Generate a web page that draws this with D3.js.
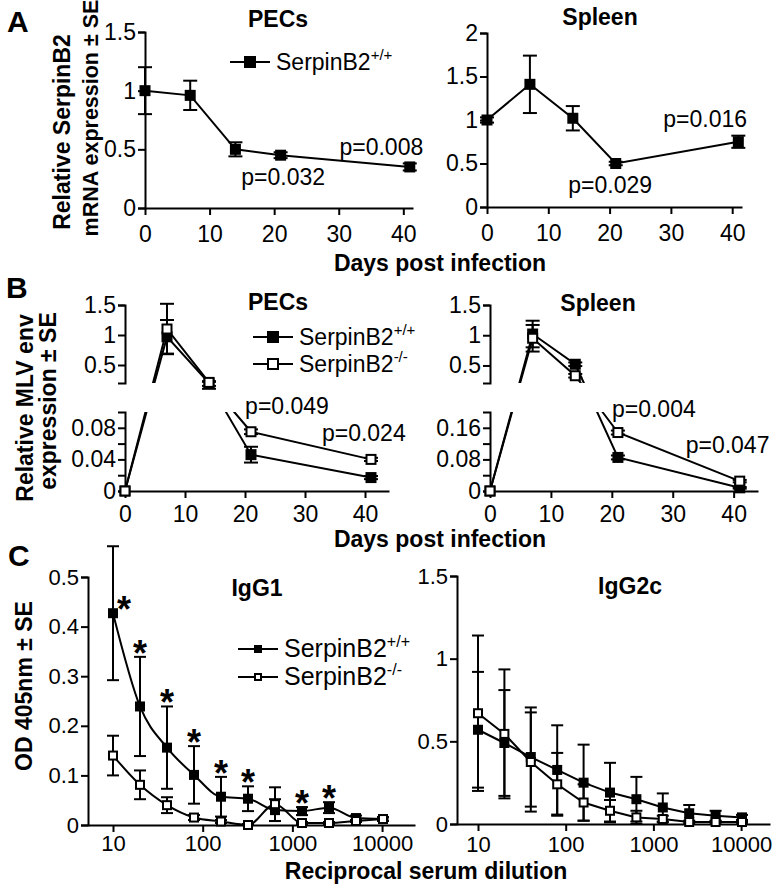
<!DOCTYPE html>
<html>
<head>
<meta charset="utf-8">
<script src="https://cdn.jsdelivr.net/npm/d3@7"></script>
<style>
body { margin: 0; background: #fff; }
svg { display: block; font-family: "Liberation Sans", Arial, Helvetica, sans-serif; }
.axis path, .axis line { stroke: #000; stroke-width: 2; }
.axis text { font-family: "Liberation Sans", Arial, Helvetica, sans-serif; font-size: 23px; fill: #000; }
.axis.small text { font-size: 22px; }
</style>
</head>
<body>
<div id="chart"></div>
<script>

// ---------- panel A : relative SerpinB2 mRNA ----------
var daysA = [0, 7, 14, 21, 41];
var pecsA = [1.0, 0.96, 0.5, 0.45, 0.35];
var pecsA_se = [0.2, 0.125, 0.06, 0.025, 0.03];
var spleenA = [1.0, 1.41, 1.02, 0.5, 0.75];
var spleenA_se = [0.03, 0.33, 0.14, 0.02, 0.07];

// ---------- panel B : MLV env (broken y axis) ----------
var daysB = [0, 7, 14, 21, 41];
var pecsB_wt = [0, 0.97, 0.2, 0.046, 0.017];
var pecsB_wt_se = [0, 0.28, 0.02, 0.01, 0.002];
var pecsB_ko = [0, 1.1, 0.21, 0.075, 0.04];
var pecsB_ko_se = [0, 0.42, 0.02, 0.003, 0.002];
var spleenB_wt = [0, 1.02, 0.52, 0.085, 0.008];
var spleenB_wt_se = [0, 0.22, 0.03, 0.005, 0.002];
var spleenB_ko = [0, 0.95, 0.33, 0.148, 0.025];
var spleenB_ko_se = [0, 0.22, 0.03, 0.005, 0.003];

// ---------- panel C : antibody titres ----------
var dilutions = [10, 20, 40, 80, 160, 320, 640, 1280, 2560, 5120, 10240];
var igg1_wt = [0.427, 0.239, 0.156, 0.101, 0.057, 0.053, 0.03, 0.028, 0.035, 0.014, 0.012];
var igg1_wt_se = [0.135, 0.1, 0.083, 0.058, 0.04, 0.025, 0.022, 0.008, 0.011, 0.005, 0.003];
var igg1_ko = [0.14, 0.081, 0.04, 0.015, 0.007, 0.0, 0.042, 0.004, 0.004, 0.008, 0.012];
var igg1_ko_se = [0.04, 0.029, 0.016, 0.005, 0.003, 0.002, 0.034, 0.002, 0.002, 0.002, 0.004];
var igg1_stars = [10, 20, 40, 80, 160, 320, 1280, 2560];
var igg2c_wt = [0.57, 0.49, 0.405, 0.327, 0.25, 0.19, 0.15, 0.1, 0.065, 0.05, 0.04];
var igg2c_wt_se = [0.35, 0.32, 0.3, 0.27, 0.23, 0.18, 0.135, 0.085, 0.05, 0.03, 0.015];
var igg2c_ko = [0.67, 0.545, 0.375, 0.24, 0.13, 0.08, 0.04, 0.03, 0.012, 0.012, 0.012];
var igg2c_ko_se = [0.47, 0.39, 0.3, 0.19, 0.11, 0.065, 0.04, 0.02, 0.008, 0.005, 0.005];

// tick labels
var dayTicks = [0, 10, 20, 30, 40];
var ticksA_pecs = [0, 0.5, 1, 1.5];
var ticksA_spleen = [0, 0.5, 1, 1.5, 2];
var ticksB_top = [0.5, 1, 1.5];
var ticksB_pecs = [0, 0.02, 0.04, 0.06, 0.08];
var labelsB_pecs = [0, 0.04, 0.08];
var ticksB_spleen = [0, 0.04, 0.08, 0.12, 0.16];
var labelsB_spleen = [0, 0.08, 0.16];
var ticksC_igg1 = [0, 0.1, 0.2, 0.3, 0.4, 0.5];
var ticksC_igg2c = [0, 0.5, 1, 1.5];
var dilutionTicks = [10, 100, 1000, 10000];

var W = 782, H = 894;

var svg = d3.select("#chart")
    .append("svg")
    .attr("width", W)
    .attr("height", H);

svg.append("rect").attr("width", W).attr("height", H).attr("fill", "#fff");
var defs = svg.append("defs");

function yAxis(x, scale, ticks, labels, cls) {
    svg.append("g")
        .attr("class", "axis " + (cls || ""))
        .attr("transform", "translate(" + x + ",0)")
        .call(d3.axisLeft(scale)
            .tickValues(ticks)
            .tickSize(7)
            .tickSizeOuter(7)
            .tickPadding(2)
            .tickFormat(function(d) {
                return (!labels || labels.indexOf(d) >= 0) ? d : "";
            }));
}

function xAxis(y, scale, ticks, pad, cls) {
    svg.append("g")
        .attr("class", "axis " + (cls || ""))
        .attr("transform", "translate(0," + y + ")")
        .call(d3.axisBottom(scale)
            .tickValues(ticks)
            .tickSize(7)
            .tickSizeOuter(0)
            .tickPadding(pad)
            .tickFormat(function(d) { return d; }));
}

// one series: line + error bars + square markers
function series(xs, ys, xv, yv, se, o) {
    var pts = xv.map(function(x, i) { return {x: x, y: yv[i], se: se[i]}; });
    var g = svg.append("g");

    var line = d3.line()
        .x(function(d) { return xs(d.x); })
        .y(function(d) { return ys(d.y); })
        .curve(o.curve || d3.curveLinear);

    g.append("path")
        .attr("d", line(pts))
        .attr("fill", "none")
        .attr("stroke", "#000")
        .attr("stroke-width", 2)
        .attr("clip-path", o.clip ? "url(#" + o.clip + ")" : null);

    var eb = g.selectAll(".eb")
        .data(pts.filter(function(d) { return d.se > 0; }))
        .enter()
        .append("g")
        .attr("stroke", "#000")
        .attr("stroke-width", 2);
    eb.append("line")
        .attr("x1", function(d) { return xs(d.x); })
        .attr("x2", function(d) { return xs(d.x); })
        .attr("y1", function(d) { return ys(Math.max(0, d.y - d.se)); })
        .attr("y2", function(d) { return ys(d.y + d.se); });
    eb.append("line")
        .attr("x1", function(d) { return xs(d.x) - o.cap / 2; })
        .attr("x2", function(d) { return xs(d.x) + o.cap / 2; })
        .attr("y1", function(d) { return ys(d.y + d.se); })
        .attr("y2", function(d) { return ys(d.y + d.se); });
    eb.append("line")
        .attr("x1", function(d) { return xs(d.x) - o.cap / 2; })
        .attr("x2", function(d) { return xs(d.x) + o.cap / 2; })
        .attr("y1", function(d) { return ys(Math.max(0, d.y - d.se)); })
        .attr("y2", function(d) { return ys(Math.max(0, d.y - d.se)); });

    var s = o.open ? o.size - 2 : o.size;
    g.selectAll(".mk")
        .data(pts)
        .enter()
        .append("rect")
        .attr("x", function(d) { return xs(d.x) - s / 2; })
        .attr("y", function(d) { return ys(d.y) - s / 2; })
        .attr("width", s)
        .attr("height", s)
        .attr("fill", o.open ? "#fff" : "#000")
        .attr("stroke", o.open ? "#000" : "none")
        .attr("stroke-width", 2);
}

function legendItem(x, y, open, size, sup, fs) {
    svg.append("line")
        .attr("x1", x).attr("x2", x + 40)
        .attr("y1", y).attr("y2", y)
        .attr("stroke", "#000").attr("stroke-width", 2);
    var s = open ? size - 2 : size;
    svg.append("rect")
        .attr("x", x + 20 - s / 2).attr("y", y - s / 2)
        .attr("width", s).attr("height", s)
        .attr("fill", open ? "#fff" : "#000")
        .attr("stroke", open ? "#000" : "none")
        .attr("stroke-width", 2);
    var t = svg.append("text")
        .attr("x", x + 46).attr("y", y + 8)
        .attr("font-size", fs)
        .text("SerpinB2");
    t.append("tspan").attr("font-size", Math.round(fs * 0.64)).attr("dy", -10).text(sup);
}

function label(x, y, txt, size, bold, anchor, rotate) {
    svg.append("text")
        .attr("transform", "translate(" + x + "," + y + ")" + (rotate ? " rotate(-90)" : ""))
        .attr("text-anchor", anchor || "middle")
        .attr("font-size", size)
        .attr("font-weight", bold ? "bold" : "normal")
        .text(txt);
}

// ================= Panel A =================
var xA1 = d3.scaleLinear().domain([0, 41.5]).range([145, 413]);
var yA1 = d3.scaleLinear().domain([0, 1.5]).range([208, 32]);
var xA2 = d3.scaleLinear().domain([0, 41.6]).range([487, 742]);
var yA2 = d3.scaleLinear().domain([0, 2]).range([207, 33]);

yAxis(145, yA1, ticksA_pecs);
xAxis(208, xA1, dayTicks, 11);
yAxis(487, yA2, ticksA_spleen);
xAxis(207, xA2, dayTicks, 11);

series(xA1, yA1, daysA, pecsA, pecsA_se, {size: 11, cap: 14});
series(xA2, yA2, daysA, spleenA, spleenA_se, {size: 11, cap: 14});

label(xA1(21.4), yA1(0.2), "p=0.032", 23);
label(xA1(36.6), yA1(0.45), "p=0.008", 23);
label(xA2(20.1), yA2(0.16), "p=0.029", 23);
label(xA2(35.6), yA2(0.92), "p=0.016", 23);

label(278, 27, "PECs", 23, true);
label(600, 25, "Spleen", 23, true);
legendItem(230, 62, false, 12, "+/+", 23);

label(440, 271, "Days post infection", 23, true);
label(70, 132, "Relative SerpinB2", 23, true, "middle", true);
label(98, 118, "mRNA expression \u00B1 SE", 21.5, true, "middle", true);
label(7, 32, "A", 30, true, "start");

// ================= Panel B =================
var xB1 = d3.scaleLinear().domain([0, 44]).range([125, 389]);
var xB2 = d3.scaleLinear().domain([0, 44]).range([490, 758]);
// continuous mapping across the break, plus one scale per axis segment
var yB1 = d3.scaleLinear().domain([0, 0.1, 0.2, 1.5]).range([491, 412, 383, 305]);
var yB1lo = d3.scaleLinear().domain([0, 0.1]).range([491, 412]);
var yB1hi = d3.scaleLinear().domain([0.2, 1.5]).range([383, 305]);
var yB2 = d3.scaleLinear().domain([0, 0.2, 0.21, 1.5]).range([491, 412, 383, 305]);
var yB2lo = d3.scaleLinear().domain([0, 0.2]).range([491, 412]);
var yB2hi = d3.scaleLinear().domain([0.21, 1.5]).range([383, 305]);

// lines disappear inside the axis break
[["clipB1", 100], ["clipB2", 465]].forEach(function(c) {
    var cp = defs.append("clipPath").attr("id", c[0]);
    cp.append("rect").attr("x", c[1]).attr("y", 280).attr("width", 310).attr("height", 103);
    cp.append("rect").attr("x", c[1]).attr("y", 412).attr("width", 310).attr("height", 90);
});

yAxis(125, yB1hi, ticksB_top);
yAxis(125, yB1lo, ticksB_pecs, labelsB_pecs);
xAxis(491, xB1, dayTicks, 8);
yAxis(490, yB2hi, ticksB_top);
yAxis(490, yB2lo, ticksB_spleen, labelsB_spleen);
xAxis(491, xB2, dayTicks, 8);

series(xB1, yB1, daysB, pecsB_wt, pecsB_wt_se, {size: 11, cap: 14, clip: "clipB1"});
series(xB1, yB1, daysB, pecsB_ko, pecsB_ko_se, {size: 11, cap: 14, clip: "clipB1", open: true});
series(xB2, yB2, daysB, spleenB_wt, spleenB_wt_se, {size: 11, cap: 14, clip: "clipB2"});
series(xB2, yB2, daysB, spleenB_ko, spleenB_ko_se, {size: 11, cap: 14, clip: "clipB2", open: true});

label(xB1(27), yB1(0.0975), "p=0.049", 23);
label(xB1(39.8), yB1(0.063), "p=0.024", 23);
label(xB2(26.9), yB2(0.187), "p=0.004", 23);
label(xB2(39), yB2(0.096), "p=0.047", 23);

label(248, 310, "PECs", 23, true, "start");
label(598, 311, "Spleen", 23, true);
legendItem(253, 337, false, 12, "+/+", 23);
legendItem(253, 364, true, 12, "-/-", 23);

label(440, 547, "Days post infection", 23, true);
label(33, 408, "Relative MLV env", 23, true, "middle", true);
label(56, 401, "expression \u00B1 SE", 23, true, "middle", true);
label(6, 298, "B", 30, true, "start");

// ================= Panel C =================
var xC1 = d3.scaleLog().domain([10, 10240]).range([113, 383]);
xC1.domain([xC1.invert(88), xC1.invert(415)]).range([88, 415]);
var yC1 = d3.scaleLinear().domain([0, 0.5]).range([825, 577]);
var xC2 = d3.scaleLog().domain([10, 10240]).range([478, 742]);
xC2.domain([xC2.invert(457), xC2.invert(770)]).range([457, 770]);
var yC2 = d3.scaleLinear().domain([0, 1.5]).range([824, 576]);

yAxis(88, yC1, ticksC_igg1, null, "small");
xAxis(825, xC1, dilutionTicks, 3, "small");
yAxis(457, yC2, ticksC_igg2c, null, "small");
xAxis(824, xC2, dilutionTicks, 5, "small");

series(xC1, yC1, dilutions, igg1_wt, igg1_wt_se, {size: 10, cap: 12, curve: d3.curveMonotoneX});
series(xC1, yC1, dilutions, igg1_ko, igg1_ko_se, {size: 10, cap: 12, curve: d3.curveMonotoneX, open: true});
series(xC2, yC2, dilutions, igg2c_wt, igg2c_wt_se, {size: 10, cap: 12});
series(xC2, yC2, dilutions, igg2c_ko, igg2c_ko_se, {size: 10, cap: 12, open: true});

// significance stars above the SerpinB2+/+ error bars
svg.selectAll(".star")
    .data(igg1_stars)
    .enter()
    .append("text")
    .attr("class", "star")
    .attr("text-anchor", "middle")
    .attr("font-size", 36)
    .attr("font-weight", "bold")
    .attr("x", function(d) {
        var i = dilutions.indexOf(d);
        var top = igg1_wt[i] + igg1_wt_se[i];
        return xC1(d) + (top > yC1.domain()[1] ? 11 : 0);
    })
    .attr("y", function(d) {
        var i = dilutions.indexOf(d);
        var top = igg1_wt[i] + igg1_wt_se[i];
        var cy = top > yC1.domain()[1] ? yC1(igg1_wt[i]) - 11 : yC1(top) - 11;
        return cy + 20;
    })
    .text("*");

label(257, 596, "IgG1", 23, true);
label(630, 594, "IgG2c", 23, true);
legendItem(238, 649, false, 8, "+/+", 25);
legendItem(238, 677, true, 8, "-/-", 25);

label(426, 879, "Reciprocal serum dilution", 23, true);
label(32, 686, "OD 405nm \u00B1 SE", 23, true, "middle", true);
label(8, 566, "C", 30, true, "start");

</script>
</body>
</html>
